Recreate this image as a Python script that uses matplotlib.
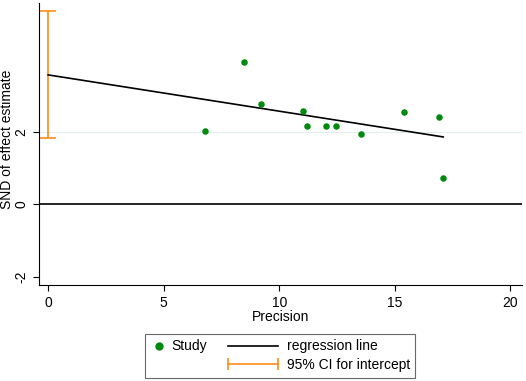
import numpy as np
import matplotlib
matplotlib.use("Agg")
from matplotlib import pyplot as plt
from matplotlib.lines import Line2D
from matplotlib.patches import Patch
from matplotlib.legend_handler import HandlerBase

plt.rcParams['font.family'] = ['Liberation Sans', 'DejaVu Sans']

# study points (precision, standard normal deviate)
precision = [6.77, 8.48, 9.21, 11.04, 11.21, 12.03, 12.45, 13.55, 15.40, 16.91, 17.10]
snd = [2.01, 3.93, 2.76, 2.57, 2.17, 2.15, 2.17, 1.94, 2.55, 2.40, 0.73]

# Egger regression line and CI for intercept
intercept = 3.57
slope = -0.10
ci_low = 1.82
ci_high = 5.34

xticks = [0, 5, 10, 15, 20]
yticks = [-2, 0, 2]

green = "#008a0e"
orange = "#ff8c1a"
fs = 10
reach = 28  # points the long legend handles reach back into the column gap


class HandlerCI(HandlerBase):
    def create_artists(self, legend, orig_handle, xdescent, ydescent,
                       width, height, fontsize, trans):
        y = height / 2 - ydescent
        x0, x1 = -xdescent - reach, width - xdescent
        line = Line2D([x0, x1], [y, y], color=orange, lw=1.2, transform=trans)
        caps = Line2D([x0, x1], [y, y], color=orange, lw=0, marker="|",
                      markersize=9, markeredgewidth=1.2, transform=trans)
        return [line, caps]


class HandlerLong(HandlerBase):
    def create_artists(self, legend, orig_handle, xdescent, ydescent,
                       width, height, fontsize, trans):
        y = height / 2 - ydescent
        line = Line2D([-xdescent - reach, width - xdescent], [y, y], color="black",
                      lw=1.2, transform=trans)
        return [line]


class HandlerDot(HandlerBase):
    def create_artists(self, legend, orig_handle, xdescent, ydescent,
                       width, height, fontsize, trans):
        y = height / 2 - ydescent
        dot = Line2D([width * 0.7 - xdescent], [y], color=green, lw=0, marker="o",
                     markersize=5, transform=trans)
        return [dot]


fig = plt.figure(figsize=(5.26, 3.81), dpi=100)
ax = fig.add_axes([0.074, 0.252, 0.918, 0.74])

ax.axhline(2, color="#e3eef0", lw=0.8, zorder=0)
ax.axhline(0, color="black", lw=1.2, zorder=1)

ax.errorbar([0], [(ci_low + ci_high) / 2], yerr=[[(ci_high - ci_low) / 2]],
            color=orange, lw=1.2, capsize=6, capthick=1.2, zorder=2)

xline = np.array([0, max(precision)])
ax.plot(xline, intercept + slope * xline, color="black", lw=1.2, zorder=3)

ax.scatter(precision, snd, s=22, color=green, zorder=4, linewidths=0)

ax.set_xlim(-0.4, 20.5)
ax.set_ylim(-2.22, 5.55)
ax.set_xticks(xticks)
ax.set_yticks(yticks)
ax.set_yticklabels([str(t) for t in yticks], rotation=90, va="center")
ax.tick_params(direction="out", length=4.3, width=0.8, labelsize=fs, colors="black", pad=3.5)
ax.spines["top"].set_visible(False)
ax.spines["right"].set_visible(False)
ax.spines["left"].set_linewidth(0.8)
ax.spines["bottom"].set_linewidth(0.8)
ax.set_xlabel("Precision", fontsize=fs, labelpad=0)
ax.set_ylabel("SND of effect estimate", fontsize=fs)
ax.yaxis.set_label_coords(-0.052, 0.515)

study_h = Line2D([], [], color=green, marker="o", lw=0)
blank_h = Patch(visible=False)
reg_h = Line2D([], [], color="black", lw=1.2)
ci_h = Patch(visible=False)

leg = fig.legend([study_h, blank_h, reg_h, ci_h],
                 ["Study", "", "regression line", "95% CI for intercept"],
                 handler_map={ci_h: HandlerCI(), study_h: HandlerDot(), reg_h: HandlerLong()},
                 ncol=2, loc="center", bbox_to_anchor=(0.533, 0.066),
                 fontsize=fs, handlelength=0.8, handletextpad=0.65,
                 columnspacing=4.3, labelspacing=0.35, borderpad=0.4,
                 frameon=True, fancybox=False, edgecolor="#444444")
leg.get_frame().set_linewidth(0.8)

fig.savefig("out.png", dpi=100)
